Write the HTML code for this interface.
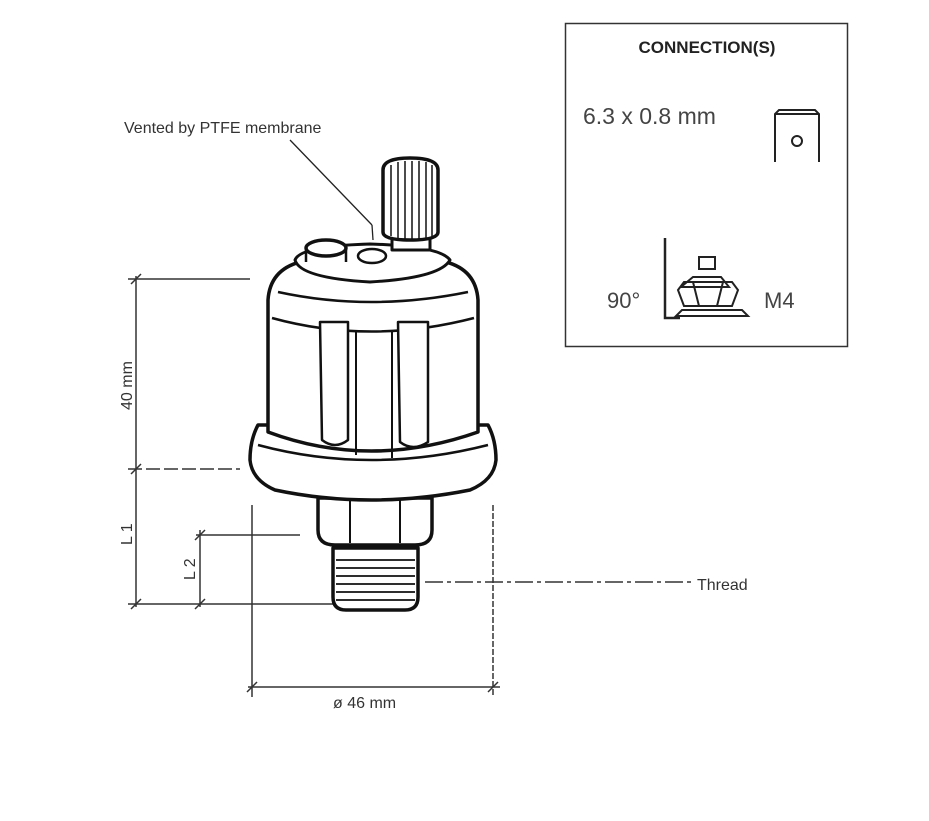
<!DOCTYPE html>
<html><head><meta charset="utf-8"><style>
html,body{margin:0;padding:0;background:#fff;width:929px;height:821px;overflow:hidden}
svg{display:block}
text{font-family:"Liberation Sans",sans-serif}
</style></head><body>
<svg width="929" height="821" viewBox="0 0 929 821" xmlns="http://www.w3.org/2000/svg">
<rect width="929" height="821" fill="#fff"/>
<rect x="565.5" y="23.5" width="282" height="323" fill="none" stroke="#333" stroke-width="1.5"/>
<text x="707" y="53" font-size="17" font-weight="bold" text-anchor="middle" fill="#222">CONNECTION(S)</text>
<text x="583" y="124" font-size="23" fill="#444">6.3 x 0.8 mm</text>
<path d="M775,162 V114 L779,110 H815 L819,114 V162 M775,114 H819" fill="none" stroke="#222" stroke-width="2"/>
<circle cx="797" cy="141" r="5" fill="none" stroke="#222" stroke-width="2"/>
<text x="607" y="308" font-size="22" fill="#444">90°</text>
<text x="764" y="308" font-size="22" fill="#444">M4</text>
<path d="M665,238 V318 H680" fill="none" stroke="#222" stroke-width="2.5"/>
<g fill="none" stroke="#222" stroke-width="2">
<rect x="699" y="257" width="16" height="12"/>
<path d="M693,277 L721,277 L729,287 H681 Z"/>
<path d="M678,290 L684,282 H732 L738,290 L732,306 H684 Z"/>
<path d="M693,282 L699,306 M723,282 L717,306"/>
<path d="M676,316 H748 L742,310 H682 Z"/>
</g>
<text x="124" y="133" font-size="16" fill="#333">Vented by PTFE membrane</text>
<line x1="290" y1="140" x2="372" y2="225" stroke="#222" stroke-width="1.3"/>
<line x1="372" y1="225" x2="373" y2="240" stroke="#222" stroke-width="1.3"/>
<g stroke="#333" stroke-width="1.5" fill="none">
<line x1="136" y1="276" x2="136" y2="607"/>
<line x1="128" y1="279" x2="250" y2="279"/>
<line x1="128" y1="469" x2="240" y2="469" stroke-dasharray="14,4"/>
<line x1="128" y1="604" x2="335" y2="604"/>
<line x1="200" y1="530" x2="200" y2="607"/>
<line x1="196" y1="535" x2="300" y2="535"/>
<line x1="252" y1="505" x2="252" y2="697"/>
<line x1="493" y1="505" x2="493" y2="697" stroke-dasharray="6,2"/>
<line x1="248" y1="687" x2="500" y2="687"/>
<line x1="425" y1="582" x2="692" y2="582" stroke-dasharray="18,4,4,4"/>
<path d="M131,284 L141,274 M131,474 L141,464 M131,609 L141,599 M195,540 L205,530 M195,609 L205,599 M247,692 L257,682 M488,692 L498,682"/>
</g>
<text transform="translate(132,410) rotate(-90)" font-size="16" fill="#333">40 mm</text>
<text transform="translate(132,545) rotate(-90)" font-size="16" fill="#333">L 1</text>
<text transform="translate(195,580) rotate(-90)" font-size="16" fill="#333">L 2</text>
<text x="333" y="708" font-size="16" fill="#333">ø 46 mm</text>
<text x="697" y="590" font-size="16" fill="#333">Thread</text>
<g fill="#fff" stroke="#111" stroke-width="3.5" stroke-linejoin="round">
<path d="M333,548 H418 V597 Q418,610 405,610 H346 Q333,610 333,597 Z"/>
<path d="M318,498 H432 V530 Q432,545 415,545 H335 Q318,545 318,530 Z"/>
<path d="M350,500 V543 M400,500 V543" stroke-width="2"/>
<path d="M258,425 Q250,440 250,460 Q252,480 275,490 Q370,510 470,490 Q494,480 496,460 Q496,440 488,425 Z"/>
<path d="M258,445 Q370,475 488,445" stroke-width="2.5"/>
<path d="M268,300 Q270,270 300,262 H446 Q476,270 478,300 V432 Q370,470 268,432 Z"/>
<path d="M278,292 Q370,312 468,292" stroke-width="2.5"/>
<path d="M272,318 Q370,345 474,318" stroke-width="2.5"/>
<path d="M320,322 H348 V440 Q335,450 322,440 Z" stroke-width="2.5"/>
<path d="M398,322 H428 V442 Q413,452 400,442 Z" stroke-width="2.5"/>
<path d="M356,330 V455 M392,330 V458" stroke-width="2"/>
<path d="M295,260 Q300,278 370,282 Q440,278 450,260 Q440,246 370,244 Q300,246 295,260 Z" stroke-width="3"/>
<ellipse cx="326" cy="248" rx="20" ry="8"/>
<path d="M306,248 V262 M346,248 V262" stroke-width="2.5"/>
<ellipse cx="372" cy="256" rx="14" ry="7" stroke-width="2.5"/>
<path d="M392,236 H430 V250 H392 Z" stroke-width="3"/>
<path d="M383,170 Q383,158 410,158 Q438,158 438,170 V232 Q438,240 410,240 Q383,240 383,232 Z"/>
<path d="M391,165 V236 M398,162 V238 M405,161 V239 M412,161 V239 M419,161 V239 M426,162 V238 M432,165 V236" stroke-width="1.5"/>
</g>
<g stroke="#111" stroke-width="1.8">
<path d="M336,560 H415 M336,568 H415 M336,576 H415 M336,584 H415 M336,592 H415 M336,600 H415"/>
</g>
</svg>
</body></html>
